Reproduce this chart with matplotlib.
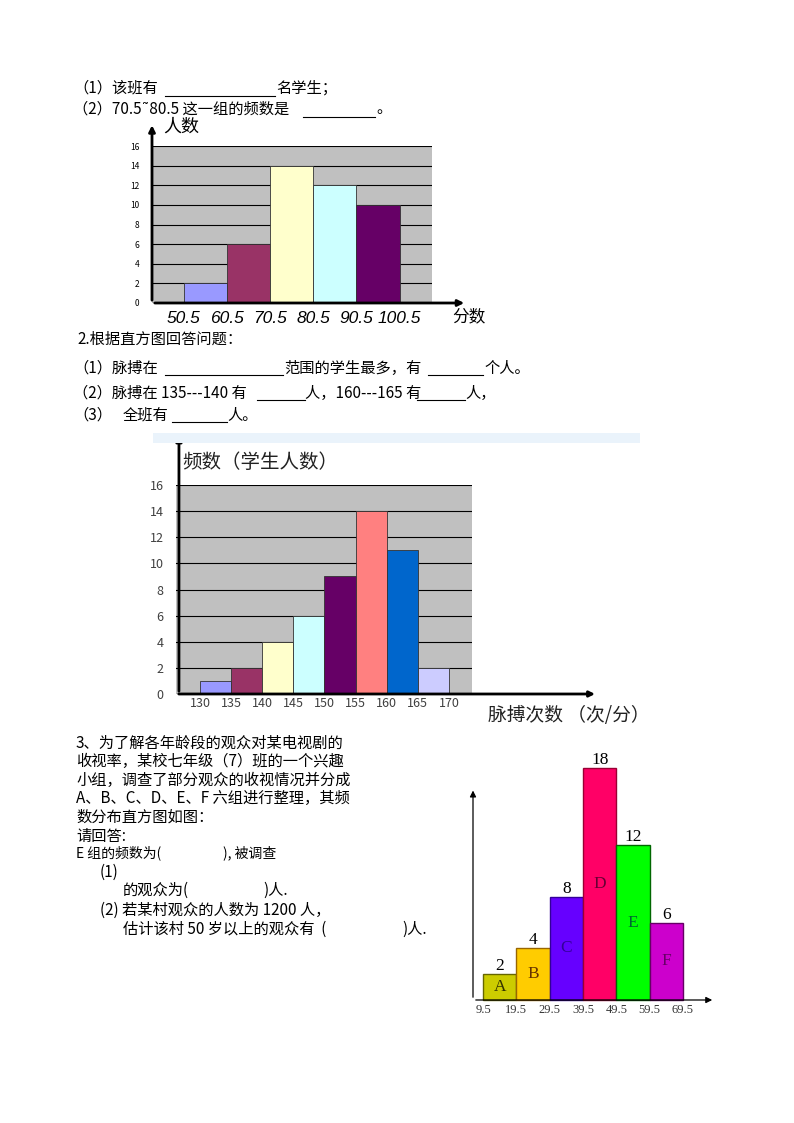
import matplotlib
matplotlib.use("Agg")
import matplotlib.pyplot as plt
from matplotlib.lines import Line2D
from matplotlib.patches import Rectangle

plt.rcParams['font.family'] = ['Noto Sans CJK SC', 'DejaVu Sans']

# chart 1: scores
score_edges = [50.5, 60.5, 70.5, 80.5, 90.5, 100.5]
score_counts = [2, 6, 14, 12, 10]
score_colors = ['#9999FF', '#993366', '#FFFFCC', '#CCFFFF', '#660066']
score_yticks = [0, 2, 4, 6, 8, 10, 12, 14, 16]

# chart 2: pulse
pulse_edges = [130, 135, 140, 145, 150, 155, 160, 165, 170]
pulse_counts = [1, 2, 4, 6, 9, 14, 11, 2]
pulse_colors = ['#9999FF', '#993366', '#FFFFCC', '#CCFFFF', '#660066',
                '#FF8080', '#0066CC', '#CCCCFF']
pulse_yticks = [0, 2, 4, 6, 8, 10, 12, 14, 16]

# chart 3: viewers by age
age_edges = [9.5, 19.5, 29.5, 39.5, 49.5, 59.5, 69.5]
age_counts = [2, 4, 8, 18, 12, 6]
age_groups = ['A', 'B', 'C', 'D', 'E', 'F']
age_colors = ['#CCCC00', '#FFCC00', '#6600FF', '#FF0066', '#00FF00', '#CC00CC']
age_edgecolors = ['#666600', '#996600', '#330099', '#990033', '#006600', '#660066']
age_lettercolors = ['#333300', '#663300', '#330099', '#660033', '#006633', '#660066']

W, H = 794, 1123
fig = plt.figure(figsize=(W / 100, H / 100), dpi=100)
FS = 11


def box(left, top, right, bottom):
    return [left / W, 1 - bottom / H, (right - left) / W, (bottom - top) / H]


def put(x, y, s, size=FS, **kw):
    fig.text(x / W, 1 - y / H, s, fontsize=size, va='center', ha=kw.pop('ha', 'left'), **kw)


def blank(x0, x1, y):
    fig.add_artist(Line2D([x0 / W, x1 / W], [1 - y / H, 1 - y / H], color='black', lw=0.8))


# ---------- question 1 text
put(73, 88, '（1）该班有')
blank(165, 275, 96)
put(276, 88, '名学生；')
put(73, 109, '（2）70.5˜80.5 这一组的频数是')
blank(303, 375, 117)
put(376, 109, '。')

# ---------- chart 1
ax1 = fig.add_axes(box(152, 146, 432, 303))
ax1.set_facecolor('#C0C0C0')
ax1.bar(score_edges[:-1], score_counts, width=10, align='edge',
        color=score_colors, edgecolor='#333333', linewidth=0.6, zorder=3)
ax1.set_xlim(43.1, 108.0)
ax1.set_ylim(0, 16)
ax1.set_yticks(score_yticks)
ax1.yaxis.grid(True, color='black', lw=0.8, zorder=1)
ax1.set_axisbelow(True)
ax1.tick_params(axis='y', length=0, labelsize=6, pad=9)
ax1.set_xticks(score_edges)
ax1.set_xticklabels([str(v) for v in score_edges], fontsize=12.5,
                    style='italic', family='Liberation Sans')
ax1.tick_params(axis='x', length=0, pad=6)
for s in ax1.spines.values():
    s.set_visible(False)
ax1.annotate('', xy=(0, 1.15), xytext=(0, 0), xycoords='axes fraction',
             arrowprops=dict(arrowstyle='-|>', lw=2, color='black', mutation_scale=9))
ax1.annotate('', xy=(1.125, 0), xytext=(0, 0), xycoords='axes fraction',
             arrowprops=dict(arrowstyle='-|>', lw=2, color='black', mutation_scale=9))
put(163, 127, '人数', size=13, style='italic')
put(452, 317, '分数', size=12, style='italic')

# ---------- question 2 text
put(77, 339, '2.根据直方图回答问题：')
put(73, 368, '（1）脉搏在')
blank(165, 283, 375)
put(284, 368, '范围的学生最多，有')
blank(428, 483, 375)
put(484, 368, '个人。')
put(73, 393, '（2）脉搏在 135---140 有')
blank(257, 305, 400)
put(305, 393, '人，160---165 有')
blank(417, 465, 400)
put(465, 393, '人，')
put(73, 415, '（3）')
put(123, 415, '全班有')
blank(172, 227, 422)
put(227, 415, '人。')

fig.add_artist(Rectangle((153 / W, 1 - 443 / H), (640 - 153) / W, 10 / H,
                         transform=fig.transFigure, color='#EAF3FB', lw=0))

# ---------- chart 2
ax2 = fig.add_axes(box(176, 485, 472, 694))
ax2.set_facecolor('#C0C0C0')
ax2.bar(pulse_edges[:-1], pulse_counts, width=5, align='edge',
        color=pulse_colors, edgecolor='#333333', linewidth=0.6, zorder=3)
ax2.set_xlim(126.15, 173.7)
ax2.set_ylim(0, 16)
ax2.set_yticks(pulse_yticks)
ax2.yaxis.grid(True, color='black', lw=0.8, zorder=1)
ax2.set_axisbelow(True)
ax2.set_xticks(pulse_edges)
ax2.tick_params(axis='both', length=0, labelsize=9, labelcolor='#404040')
ax2.tick_params(axis='y', pad=9)
ax2.tick_params(axis='x', pad=2)
for s in ax2.spines.values():
    s.set_visible(False)
ax2.annotate('', xy=(0.01, 1.25), xytext=(0.01, 0), xycoords='axes fraction',
             arrowprops=dict(arrowstyle='-|>', lw=2, color='black', mutation_scale=8))
ax2.annotate('', xy=(1.425, 0), xytext=(0, 0), xycoords='axes fraction',
             arrowprops=dict(arrowstyle='-|>', lw=2, color='black', mutation_scale=8))
put(182, 462, '频数（学生人数）', size=14, color='#222222')
put(488, 715, '脉搏次数 （次/分）', size=13.5, color='#222222')

# ---------- question 3 text
q3_lines = ['3、为了解各年龄段的观众对某电视剧的',
            '收视率，某校七年级（7）班的一个兴趣',
            '小组，调查了部分观众的收视情况并分成',
            'A、B、C、D、E、F 六组进行整理，其频',
            '数分布直方图如图：',
            '请回答:']
for i, line in enumerate(q3_lines):
    put(76, 743 + i * 18.6, line)
put(76, 853, 'E 组的频数为(', size=10)
put(223, 853, '), 被调查', size=10)
put(100, 872, '(1)')
put(123, 890, '的观众为(')
put(263, 890, ')人.')
put(100, 910, '(2) 若某村观众的人数为 1200 人，')
put(123, 929, '估计该村 50 岁以上的观众有  (')
put(402, 929, ')人.')

# ---------- chart 3
ax3 = fig.add_axes(box(473, 760, 715, 1000))
ax3.bar(age_edges[:-1], age_counts, width=10, align='edge',
        color=age_colors, edgecolor=age_edgecolors, linewidth=1, zorder=3, clip_on=False)
ax3.set_xlim(6.5, 79.1)
ax3.set_ylim(0, 18.6)
for s in ax3.spines.values():
    s.set_visible(False)
ax3.set_yticks([])
ax3.set_xticks(age_edges)
ax3.set_xticklabels([str(v) for v in age_edges], family='Liberation Serif',
                    fontsize=9, color='#333333')
ax3.tick_params(axis='x', length=0, pad=3)
ax3.annotate('', xy=(0, 16.45), xytext=(0, 0), xycoords=('axes fraction', 'data'),
             arrowprops=dict(arrowstyle='-|>', lw=0.9, color='black', mutation_scale=9))
ax3.annotate('', xy=(1, 0), xytext=(0, 0), xycoords='axes fraction',
             arrowprops=dict(arrowstyle='-|>', lw=0.9, color='black', mutation_scale=9))
for x0, h, g, c in zip(age_edges[:-1], age_counts, age_groups, age_lettercolors):
    ax3.text(x0 + 5, h, str(h), ha='center', va='bottom', fontsize=12.5,
             family='Liberation Serif', color='black', zorder=4)
    ax3.text(x0 + 5, h / 2, g, ha='center', va='center', fontsize=12.5,
             family='Liberation Serif', color=c, zorder=4)

fig.savefig('out.png', dpi=100)
